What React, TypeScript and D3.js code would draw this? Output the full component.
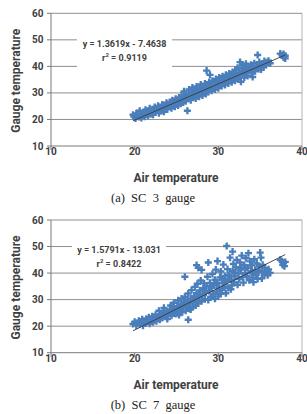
import React from 'react';
import * as d3 from 'd3';

// SC 3 gauge: [air temperature, gauge temperature]
const sc3Points: [number, number][] = [
  [19.8, 21.8], [19.9, 21.1], [20.1, 20.4], [20.2, 22.3], [20.3, 21.4], [20.5, 20.9], [20.6, 23.3],
  [20.7, 22.0], [20.8, 20.6], [21.0, 21.5], [21.1, 22.8], [21.2, 21.0], [21.3, 23.6], [21.5, 22.2],
  [21.6, 21.4], [21.7, 23.1], [21.8, 24.2], [21.9, 22.0], [22.0, 22.9], [22.2, 21.8], [22.3, 23.8],
  [22.4, 24.7], [22.5, 22.6], [22.7, 23.5], [22.8, 25.1], [22.9, 22.4], [23.0, 24.3], [23.2, 23.2],
  [23.3, 25.6], [23.4, 24.6], [23.5, 22.9], [23.7, 25.2], [23.8, 26.3], [23.9, 23.8], [24.0, 24.9],
  [24.2, 26.6], [24.3, 25.6], [24.4, 24.2], [24.5, 27.2], [24.7, 25.9], [24.8, 24.8], [24.9, 27.8],
  [25.0, 26.5], [25.2, 25.3], [25.3, 28.3], [25.4, 27.0], [25.5, 25.9], [25.6, 29.0], [25.7, 27.6],
  [25.8, 26.4], [25.9, 30.6], [26.0, 28.3], [26.1, 26.9], [26.2, 29.5], [26.3, 23.3], [26.4, 27.8],
  [26.5, 31.3], [26.6, 28.8], [26.7, 27.3], [26.8, 30.2], [26.9, 32.0], [27.0, 28.5], [27.1, 29.7],
  [27.2, 31.0], [27.3, 27.9], [27.4, 32.4], [27.5, 29.4], [27.6, 30.6], [27.7, 28.6], [27.8, 31.6],
  [27.9, 33.2], [28.0, 30.0], [28.1, 29.0], [28.2, 32.2], [28.3, 30.9], [28.4, 33.5], [28.5, 29.6],
  [28.6, 38.4], [28.6, 31.6], [28.7, 32.9], [28.8, 30.4], [28.9, 34.0], [29.0, 36.8], [29.0, 31.8],
  [29.1, 33.3], [29.2, 30.8], [29.3, 34.6], [29.4, 32.4], [29.5, 33.8], [29.6, 31.3], [29.7, 35.2],
  [29.8, 32.9], [29.9, 34.4], [30.0, 31.8], [30.1, 35.8], [30.2, 33.5], [30.3, 34.9], [30.4, 32.6],
  [30.5, 36.3], [30.6, 34.0], [30.7, 35.4], [30.8, 33.0], [30.9, 36.8], [31.0, 34.6], [31.1, 35.9],
  [31.2, 33.6], [31.3, 37.3], [31.4, 35.1], [31.5, 36.5], [31.6, 34.0], [31.7, 37.9], [31.8, 35.6],
  [31.9, 37.0], [32.0, 34.6], [32.1, 38.6], [32.2, 36.2], [32.3, 39.5], [32.4, 35.2], [32.5, 37.6],
  [32.6, 41.6], [32.6, 36.7], [32.7, 34.2], [32.8, 38.4], [32.9, 40.6], [33.0, 37.2], [33.1, 35.8],
  [33.2, 39.2], [33.3, 41.0], [33.4, 37.9], [33.5, 36.4], [33.6, 39.8], [33.8, 38.5], [33.9, 40.6],
  [34.0, 37.4], [34.1, 36.0], [34.2, 39.4], [34.3, 41.2], [34.4, 38.2], [34.6, 40.1], [34.7, 44.3],
  [34.8, 39.0], [34.9, 41.6], [35.0, 40.5], [35.1, 38.8], [35.3, 41.1], [35.4, 39.6], [35.5, 42.0],
  [35.7, 40.6], [35.8, 41.5], [36.0, 42.1], [36.2, 41.2],
  [37.4, 44.8], [37.6, 44.2], [37.8, 44.6], [37.8, 43.4], [38.0, 43.0], [38.0, 44.0],
  [21.4, 22.4], [22.1, 23.3], [23.6, 24.7], [24.6, 26.1], [25.1, 26.9], [26.0, 27.6], [27.0, 29.3],
  [28.0, 31.0], [29.0, 32.5], [30.0, 33.6], [31.0, 35.2], [32.0, 36.4], [33.0, 38.2], [34.0, 39.3],
];

// SC 7 gauge: [air temperature, gauge temperature]
const sc7Points: [number, number][] = [
  [19.8, 20.8], [20.0, 21.6], [20.2, 20.3], [20.3, 21.2], [20.5, 22.0], [20.6, 20.7], [20.8, 21.5],
  [20.9, 22.6], [21.0, 20.2], [21.2, 21.9], [21.3, 21.0], [21.4, 22.8], [21.6, 21.6], [21.7, 23.3],
  [21.8, 20.9], [22.0, 22.4], [22.1, 23.7], [22.2, 21.5], [22.4, 22.9], [22.5, 24.3], [22.6, 21.9],
  [22.8, 23.5], [22.9, 25.8], [23.0, 22.4], [23.2, 24.2], [23.3, 23.1], [23.4, 25.0], [23.5, 26.9],
  [23.7, 23.8], [23.8, 25.6], [23.9, 22.7], [24.0, 24.5], [24.2, 26.3], [24.3, 27.8], [24.4, 23.9],
  [24.5, 25.2], [24.6, 26.9], [24.7, 28.8], [24.9, 24.6], [25.0, 25.9], [25.1, 27.5], [25.2, 29.7],
  [25.3, 24.2], [25.4, 26.6], [25.5, 28.2], [25.6, 30.4], [25.7, 25.4], [25.8, 27.2], [25.9, 28.9],
  [26.0, 38.6], [26.0, 31.1], [26.1, 25.8], [26.2, 27.8], [26.3, 29.6], [26.4, 22.4], [26.4, 32.3],
  [26.5, 26.6], [26.6, 28.5], [26.7, 30.4], [26.8, 33.6], [26.9, 27.1], [27.0, 29.2], [27.1, 31.2],
  [27.2, 34.8], [27.3, 27.8], [27.3, 30.0], [27.4, 32.4], [27.4, 43.0], [27.5, 36.0], [27.6, 42.0],
  [27.6, 28.6], [27.7, 30.9], [27.8, 33.5], [27.9, 37.2], [28.0, 41.2], [28.0, 29.4], [28.1, 31.7],
  [28.2, 34.3], [28.3, 36.1], [28.4, 30.2], [28.5, 32.6], [28.6, 35.2], [28.7, 38.6], [28.8, 44.0],
  [28.8, 29.9], [28.9, 33.3], [29.0, 36.3], [29.1, 31.1], [29.2, 34.4], [29.3, 39.7], [29.4, 32.2],
  [29.5, 35.6], [29.6, 37.5], [29.7, 41.3], [29.8, 33.0], [29.9, 44.5], [29.9, 36.4], [30.0, 31.2],
  [30.1, 34.2], [30.2, 38.4], [30.3, 40.6], [30.4, 33.6], [30.5, 36.2], [30.6, 43.2], [30.7, 35.0],
  [30.8, 38.9], [30.9, 32.4], [31.0, 50.2], [31.0, 36.9], [31.1, 41.5], [31.2, 34.4], [31.3, 39.2],
  [31.4, 45.8], [31.5, 37.6], [31.6, 35.3], [31.7, 48.1], [31.7, 40.8], [31.8, 43.4], [31.9, 36.5],
  [32.0, 38.7], [32.1, 42.2], [32.2, 45.0], [32.3, 35.6], [32.4, 39.8], [32.5, 37.7], [32.6, 44.0],
  [32.7, 41.3], [32.8, 46.6], [32.9, 38.5], [33.0, 36.4], [33.1, 43.0], [33.2, 40.1], [33.3, 45.6],
  [33.4, 38.9], [33.5, 42.0], [33.6, 47.5], [33.7, 37.3], [33.8, 44.4], [33.9, 40.7], [34.0, 42.9],
  [34.1, 38.3], [34.2, 36.6], [34.3, 45.2], [34.4, 41.2], [34.5, 39.3], [34.6, 43.6], [34.7, 37.8],
  [34.8, 40.4], [34.9, 42.5], [35.0, 47.7], [35.1, 45.8], [35.2, 38.0], [35.2, 40.9], [35.3, 43.1],
  [35.5, 39.4], [35.6, 41.8], [35.7, 40.4], [35.9, 39.2], [36.0, 41.4], [36.2, 40.1],
  [37.4, 45.0], [37.6, 44.4], [37.7, 43.1], [37.8, 43.9], [37.9, 42.6], [38.0, 44.2],
  [22.3, 22.2], [23.1, 23.6], [23.9, 24.8], [24.8, 26.0], [25.6, 27.0], [26.3, 28.2], [27.0, 30.4],
  [27.7, 32.0], [28.4, 33.4], [29.1, 35.0], [29.8, 35.6], [30.5, 37.8], [31.2, 39.0], [31.9, 40.2],
  [32.6, 41.8], [33.3, 42.2], [34.0, 40.0], [29.6, 30.3], [30.3, 32.2], [31.5, 33.9], [26.7, 26.3],
  [25.2, 25.0],
];

const xTicks = [10, 20, 30, 40];
const yTicks = [10, 20, 30, 40, 50, 60];

const sc3Fit = { slope: 1.3619, intercept: -7.4638, label: 'y = 1.3619x - 7.4638', r2: '0.9119' };
const sc7Fit = { slope: 1.5791, intercept: -13.031, label: 'y = 1.5791x - 13.031', r2: '0.8422' };

const font = 'Roboto, "Open Sans", sans-serif';
const blue = '#4a7ebb';
const ink = '#404040';

type Fit = typeof sc3Fit;

function Panel({ top, points, fit, caption, box }: {
  top: number; points: [number, number][]; fit: Fit; caption: string;
  box: { x: number; y: number; w: number; h: number };
}) {
  const x = d3.scaleLinear().domain([10, 40]).range([51, 302]);
  const y = d3.scaleLinear().domain([10, 60]).range([top + 132.7, top]);
  const marker = d3.symbol().type(d3.symbolCross).size(28)()!;
  const [x0, x1] = d3.extent(points, d => d[0]) as [number, number];
  const fitLine = d3.line<number>()
    .x(d => x(d))
    .y(d => y(fit.slope * d + fit.intercept))([x0, x1])!;
  const cx = box.x + box.w / 2;

  return (
    <g>
      {yTicks.filter(t => t > 10).map(t => (
        <line key={t} x1={x(10)} x2={x(40)} y1={y(t)} y2={y(t)} stroke="#8f8f8f" strokeWidth={1} />
      ))}
      <line x1={x(40)} x2={x(40)} y1={y(60)} y2={y(10)} stroke="#b5b5b5" strokeWidth={1} />
      <line x1={x(10)} x2={x(10)} y1={y(60)} y2={y(10)} stroke="#7a7a7a" strokeWidth={1} />
      <line x1={x(10)} x2={x(40)} y1={y(10)} y2={y(10)} stroke="#7a7a7a" strokeWidth={1} />
      {yTicks.map(t => (
        <g key={t}>
          <line x1={x(10) - 4} x2={x(10)} y1={y(t)} y2={y(t)} stroke="#7a7a7a" />
          <text x={43.5} y={y(t)} dy="0.35em" textAnchor="end" fontFamily={font} fontWeight={700}
            fontSize={10} fill={ink}>{t}</text>
        </g>
      ))}
      {xTicks.map(t => (
        <g key={t}>
          <line x1={x(t)} x2={x(t)} y1={y(10)} y2={y(10) + 4} stroke="#7a7a7a" />
          <text x={x(t)} y={y(10) + 9} textAnchor="middle" fontFamily={font} fontWeight={700}
            fontSize={10} fill={ink}>{t}</text>
        </g>
      ))}
      <rect x={box.x} y={box.y} width={box.w} height={box.h} fill="#fff" />
      <text x={cx} y={box.y + 12} textAnchor="middle" fontFamily={font} fontWeight={700}
        fontSize={9} fill={ink}>{fit.label}</text>
      <text x={cx} y={box.y + 25.5} textAnchor="middle" fontFamily={font} fontWeight={700}
        fontSize={9} fill={ink}>r<tspan fontSize={6} dy={-3.5}>2</tspan><tspan dy={3.5}> = {fit.r2}</tspan></text>
      {points.map((p, i) => (
        <path key={i} d={marker} transform={`translate(${x(p[0])},${y(p[1])})`} fill={blue} />
      ))}
      <path d={fitLine} stroke="#3a3a3a" strokeWidth={0.9} fill="none" />
      <text x={176} y={top + 168.5} textAnchor="middle" fontFamily={font} fontWeight={700}
        fontSize={12} fill={ink}>Air temperature</text>
      <text transform={`translate(19.5,${top + 67.5}) rotate(-90)`} textAnchor="middle" fontFamily={font}
        fontWeight={700} fontSize={12} fill={ink}>Gauge temperature</text>
      <text x={153} y={top + 189} textAnchor="middle" fontFamily='"Liberation Serif", "Times New Roman", serif'
        fontSize={12.5} fill="#222" style={{ whiteSpace: 'pre' }}>{caption}</text>
    </g>
  );
}

export default function App() {
  return (
    <div style={{ position: 'absolute', left: 0, top: 0 }}>
      <svg width={307} height={414} style={{ display: 'block', background: '#fff' }}>
        <Panel top={13.3} points={sc3Points} fit={sc3Fit} caption="(a)  SC  3  gauge"
          box={{ x: 77, y: 35, w: 95, h: 34 }} />
        <Panel top={220} points={sc7Points} fit={sc7Fit} caption="(b)  SC  7  gauge"
          box={{ x: 72, y: 241, w: 94, h: 30 }} />
      </svg>
    </div>
  );
}
